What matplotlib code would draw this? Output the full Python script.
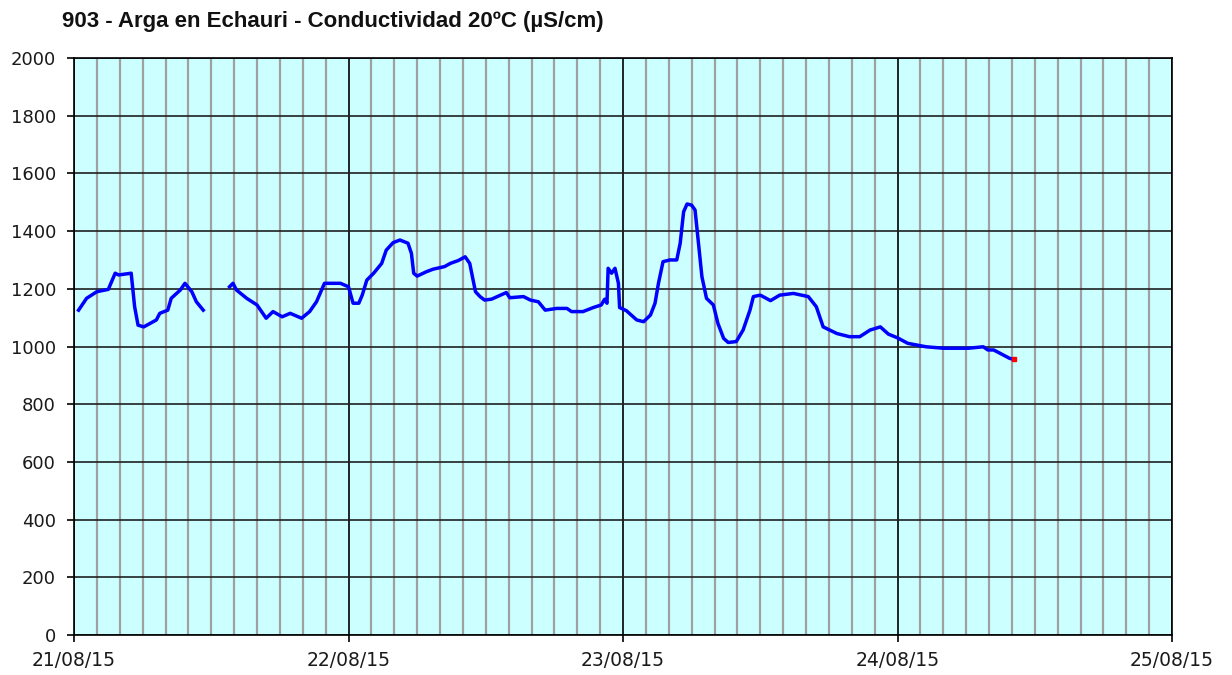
# Conductividad del Arga en Echauri, 21-25/08/2015
import numpy as np
import pandas as pd
import matplotlib
matplotlib.use('Agg')
import matplotlib.pyplot as plt
import matplotlib.dates as mdates

# horas desde 21/08/15 00:00 y valores leidos (µS/cm); NaN = hueco sin datos
horas = [0.4, 1.1, 2.0, 3.0, 3.6, 3.9, 5.0, 5.3, 5.6, 6.1, 7.2, 7.5, 8.2, 8.5, 9.3, 9.7,
         10.3, 10.7, 11.3, 12.5,
         13.6, 13.9, 14.2, 15.1, 16.0, 16.8, 17.4, 18.2, 18.9, 19.9, 20.6, 21.2, 21.9,
         23.3, 24.0, 24.4, 24.9, 25.2, 25.6, 26.2, 26.9, 27.3, 27.9, 28.5, 29.2, 29.5,
         29.7, 30.0, 30.8, 31.4, 32.4, 32.9, 33.6, 34.2, 34.6, 34.9, 35.1, 35.5, 35.9,
         36.5, 37.0, 37.8, 38.1, 39.3, 39.9, 40.6, 41.2, 42.2, 43.1, 43.5, 44.5, 45.4,
         46.1, 46.4, 46.6, 46.7, 47.0, 47.3, 47.6, 47.7, 48.3, 49.2, 49.8, 50.4, 50.8,
         51.1, 51.5, 52.1, 52.7, 53.0, 53.3, 53.6, 54.0, 54.3, 54.6, 54.9, 55.3, 55.9,
         56.3, 56.8, 57.2, 57.9, 58.5, 59.1, 59.4, 60.0, 60.9, 61.7, 62.9, 64.2, 64.9,
         65.5, 66.7, 67.8, 68.7, 69.6, 70.5, 71.2, 72.0, 72.9, 74.5, 76.0, 78.2, 79.5,
         79.9, 80.4, 80.7, 81.8, 82.2]
valores = [1126, 1167, 1190, 1198, 1254, 1248, 1254, 1138, 1074, 1068, 1092, 1115, 1126,
           1167, 1196, 1219, 1190, 1155, 1126, np.nan,
           1207, 1219, 1196, 1167, 1144, 1098, 1121, 1103, 1115, 1098, 1121, 1155, 1219,
           1219, 1207, 1150, 1150, 1178, 1230, 1254, 1288, 1334, 1360, 1369, 1358, 1323,
           1254, 1244, 1259, 1268, 1277, 1288, 1298, 1311, 1288, 1230, 1190, 1173, 1161,
           1164, 1173, 1187, 1169, 1173, 1161, 1155, 1126, 1132, 1132, 1121, 1121, 1135,
           1144, 1164, 1150, 1271, 1254, 1271, 1219, 1135, 1124, 1092, 1086, 1109, 1150,
           1219, 1294, 1300, 1300, 1358, 1467, 1494, 1490, 1473, 1358, 1242, 1167, 1144,
           1080, 1028, 1014, 1017, 1057, 1126, 1173, 1178, 1159, 1178, 1184, 1173, 1138,
           1068, 1045, 1034, 1034, 1057, 1068, 1043, 1030, 1011, 999, 994, 994, 999,
           988, 988, 982, 959, 955]

inicio = pd.Timestamp('2015-08-21')
fechas = inicio + pd.to_timedelta(horas, unit='h')
dias = pd.date_range('2015-08-21', '2015-08-25', freq='D')

fig = plt.figure(figsize=(12.32, 6.75), dpi=100)
ax = fig.add_axes([74/1232, 40/675, (1172-74)/1232, (635-58)/675])
ax.set_facecolor('#CCFFFF')

ax.plot(fechas, valores, color='#0000FF', lw=2.5, solid_joinstyle='round', zorder=3)
ax.plot(fechas[-1:], valores[-1:], 's', color='red', ms=3, zorder=4)

ax.set_xlim(dias[0], dias[-1])
ax.set_ylim(0, 2000)
ax.set_yticks(range(0, 2001, 200))
ax.xaxis.set_major_locator(mdates.DayLocator())
ax.xaxis.set_major_formatter(mdates.DateFormatter('%d/%m/%y'))
ax.xaxis.set_minor_locator(mdates.HourLocator(byhour=range(0, 24, 2)))

ax.grid(which='minor', axis='x', color='#A0A0A0', lw=1.6, zorder=1)
ax.grid(which='major', axis='x', color='black', lw=1.2, zorder=1)
ax.grid(which='major', axis='y', color='#202020', lw=1.2, zorder=1)
ax.set_axisbelow(True)

ax.tick_params(which='minor', length=0)
ax.tick_params(which='major', length=5, width=1.2, labelsize=13, colors='black',
               labelcolor='#1a1a1a')
ax.tick_params(axis='x', pad=6.5, labelsize=13.5)
ax.tick_params(axis='y', pad=8)
for s in ax.spines.values():
    s.set_color('black')
    s.set_linewidth(1.2)

fig.text(62/1232, 1 - 22/675, '903 - Arga en Echauri - Conductividad 20ºC (µS/cm)',
         fontsize=16, fontweight='bold', ha='left', va='center', color='#111111',
         family=['Liberation Sans', 'DejaVu Sans'])

fig.savefig('out.png', dpi=100, facecolor='white')
